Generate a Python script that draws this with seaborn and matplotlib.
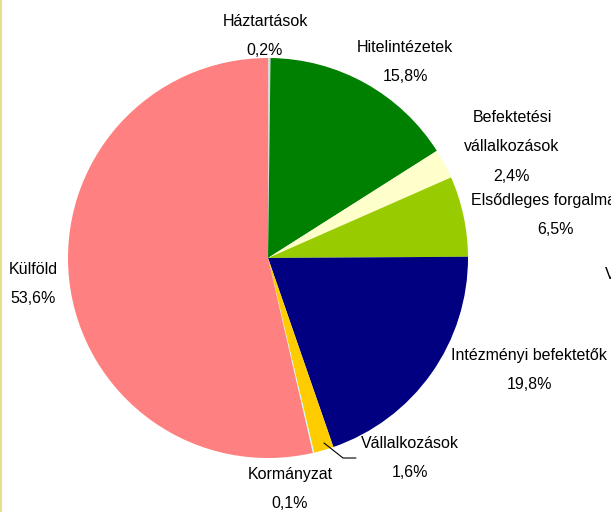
import matplotlib
matplotlib.use("Agg")
import matplotlib.pyplot as plt
import seaborn as sns
import numpy as np

sns.set_theme(style="white")
plt.rcParams['font.family'] = ['Liberation Sans', 'DejaVu Sans']

categories = ["Háztartások", "Hitelintézetek", "Befektetési\nvállalkozások",
              "Elsődleges forgalmazók", "Vállalatok", "Intézményi befektetők",
              "Vállalkozások", "Kormányzat", "Külföld"]
values = [0.2, 15.8, 2.4, 6.5, 0.0, 19.8, 1.6, 0.1, 53.6]
pct_labels = ["0,2%", "15,8%", "2,4%", "6,5%", "0,0%", "19,8%", "1,6%", "0,1%", "53,6%"]
colors = ["#D9D9D9", "#008000", "#FFFFCC", "#99CC00", "#FFFFFF", "#000080",
          "#FFCC00", "#CCFFFF", "#FF8080"]

# label anchor positions (pixels, top-left origin; x = centre, y = top)
label_pos = [(265, 14), (405, 40), (512, 110), (556, 193), (640, 267),
             (529, 348), (410, 436), (290, 467), (33, 262)]

W, H = 611, 512
fig = plt.figure(figsize=(W / 100, H / 100), dpi=100)
ax = fig.add_axes([0, 0, 1, 1])

cx, cy, r = 268, H - 258, 200
ax.pie(values, colors=colors, startangle=90, counterclock=False,
       center=(cx, cy), radius=r, frame=True,
       wedgeprops=dict(linewidth=0))
ax.set_xlim(0, W)
ax.set_ylim(0, H)
ax.set_aspect("equal")
ax.axis("off")

for cat, pct, (px, py) in zip(categories, pct_labels, label_pos):
    txt = cat + "\n" + pct
    ax.text(px, H - py, txt, ha="center", va="top", fontsize=11.5,
            linespacing=2.2, color="#000000", clip_on=False)

# leader line for Vállalkozások
ax.plot([324, 343, 356], [H - 443, H - 458, H - 458], color="#000000", lw=0.8)

# left border line
ax.plot([0.8, 0.8], [0, H], color="#E6E08C", lw=1.6)

fig.savefig("out.png", dpi=100)
